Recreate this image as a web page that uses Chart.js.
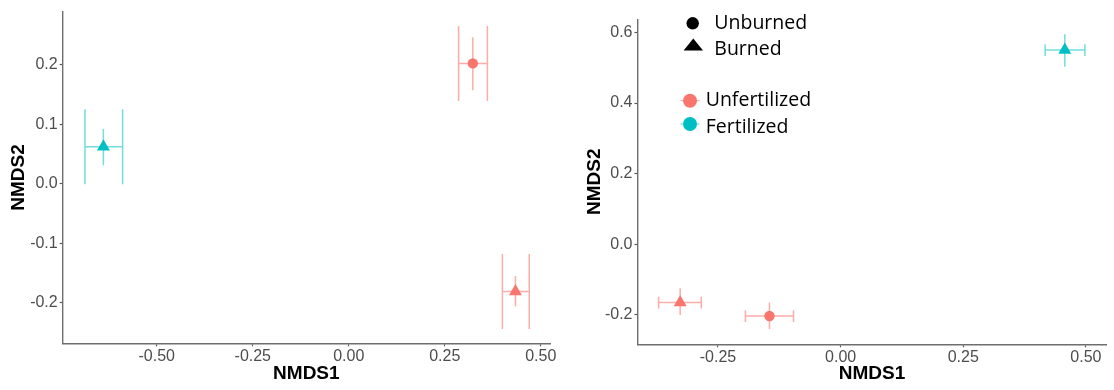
<!DOCTYPE html>
<html>
<head>
<meta charset="utf-8">
<script src="https://cdn.jsdelivr.net/npm/chart.js@4.4.1/dist/chart.umd.min.js"></script>
<style>
  html, body { margin: 0; padding: 0; background: #fff; }
  #wrap { position: relative; width: 1114px; height: 390px; }
  .panel { position: absolute; top: 0; height: 390px; }
  #leftPanel { left: 0; width: 560px; }
  #rightPanel { left: 560px; width: 554px; }
</style>
</head>
<body>
<div id="wrap">
  <div class="panel" id="leftPanel"><canvas id="leftChart" width="560" height="390"></canvas></div>
  <div class="panel" id="rightPanel"><canvas id="rightChart" width="554" height="390"></canvas></div>
</div>
<script>
// legend groups
const burnGroups = ['Unburned', 'Burned'];
const fertGroups = ['Unfertilized', 'Fertilized'];

// left panel
const leftFert  = ['Unfertilized', 'Unfertilized', 'Fertilized'];
const leftBurn  = ['Unburned', 'Burned', 'Burned'];
const leftX     = [0.323, 0.434, -0.639];
const leftY     = [0.202, -0.181, 0.062];
const leftXLo   = [0.286, 0.400, -0.687];
const leftXHi   = [0.361, 0.470, -0.589];
const leftYLo   = [0.157, -0.206, 0.031];
const leftYHi   = [0.246, -0.155, 0.092];
const leftXTicks = [-0.50, -0.25, 0.00, 0.25, 0.50];
const leftYTicks = [-0.2, -0.1, 0.0, 0.1, 0.2];

// right panel
const rightFert = ['Unfertilized', 'Unfertilized', 'Fertilized'];
const rightBurn = ['Unburned', 'Burned', 'Burned'];
const rightX    = [-0.145, -0.327, 0.457];
const rightY    = [-0.203, -0.165, 0.550];
const rightXLo  = [-0.194, -0.371, 0.417];
const rightXHi  = [-0.096, -0.284, 0.498];
const rightYLo  = [-0.240, -0.200, 0.503];
const rightYHi  = [-0.165, -0.124, 0.595];
const rightXTicks = [-0.25, 0.00, 0.25, 0.50];
const rightYTicks = [-0.2, 0.0, 0.2, 0.4, 0.6];

const pointCol = { Unfertilized: '#F8766D', Fertilized: '#00BFC4' };
const barCol   = { Unfertilized: 'rgba(248,118,109,0.6)', Fertilized: 'rgba(0,191,196,0.55)' };
const SANS = '"Liberation Sans", Arial, sans-serif';

const errorBars = {
  id: 'errorBars',
  beforeDatasetsDraw(chart, args, opts) {
    const { ctx, scales: { x, y } } = chart;
    ctx.save();
    ctx.lineWidth = 1.5;
    chart.data.datasets.forEach(ds => {
      ds.data.forEach((p, i) => {
        const px = x.getPixelForValue(p.x), py = y.getPixelForValue(p.y);
        const x0 = x.getPixelForValue(ds.xLo[i]), x1 = x.getPixelForValue(ds.xHi[i]);
        const y0 = y.getPixelForValue(ds.yLo[i]), y1 = y.getPixelForValue(ds.yHi[i]);
        const h = opts.capH / 2;
        ctx.strokeStyle = barCol[ds.fert[i]];
        ctx.beginPath();
        ctx.moveTo(x0, py); ctx.lineTo(x1, py);
        ctx.moveTo(x0, py - h); ctx.lineTo(x0, py + h);
        ctx.moveTo(x1, py - h); ctx.lineTo(x1, py + h);
        ctx.moveTo(px, y0); ctx.lineTo(px, y1);
        ctx.stroke();
      });
    });
    ctx.restore();
  }
};

const keyLegend = {
  id: 'keyLegend',
  afterDraw(chart, args, opts) {
    if (!opts.show) return;
    const ctx = chart.ctx;
    ctx.save();
    ctx.font = '19.5px "Open Sans", sans-serif';
    ctx.fillStyle = '#000';
    ctx.textBaseline = 'alphabetic';
    // shape keys
    ctx.beginPath(); ctx.arc(132.7, 23.3, 6.2, 0, Math.PI * 2); ctx.fill();
    ctx.beginPath(); ctx.moveTo(133.3, 38.5); ctx.lineTo(143, 50.5); ctx.lineTo(123.6, 50.5); ctx.closePath(); ctx.fill();
    ctx.fillText(burnGroups[0], 154.3, 28.5);
    ctx.fillText(burnGroups[1], 154.3, 55.2);
    // colour keys
    [[fertGroups[0], 100.7, 106.2], [fertGroups[1], 124, 132.8]].forEach(([g, cy, by]) => {
      ctx.strokeStyle = barCol[g]; ctx.lineWidth = 1.2;
      ctx.beginPath(); ctx.moveTo(120.5, cy); ctx.lineTo(139.5, cy); ctx.stroke();
      ctx.fillStyle = pointCol[g];
      ctx.beginPath(); ctx.arc(130, cy, 7, 0, Math.PI * 2); ctx.fill();
      ctx.fillStyle = '#000';
      ctx.fillText(g, 145.7, by);
    });
    ctx.restore();
  }
};

function axis(ticks, digits, min, max, title, size, titlePad, tickPad) {
  return {
    type: 'linear', min, max,
    afterBuildTicks: s => { s.ticks = ticks.map(v => ({ value: v })); },
    afterFit: s => { if (s.isHorizontal()) s.height = size; else s.width = size; },
    ticks: {
      color: '#4d4d4d', padding: tickPad, autoSkip: false, maxRotation: 0,
      font: { family: SANS, size: 16 },
      callback: v => v.toFixed(digits)
    },
    grid: { display: true, drawOnChartArea: false, drawTicks: true, tickLength: 3, tickWidth: 1.2, tickColor: '#555' },
    border: { display: true, color: '#6e6e6e', width: 1.4 },
    title: { display: true, text: title, color: '#000', padding: titlePad,
      font: { family: SANS, size: 19, weight: 'bold' } }
  };
}

function buildData(xs, ys, xLo, xHi, yLo, yHi, fert, burn) {
  return {
    datasets: [{
      data: xs.map((x, i) => ({ x, y: ys[i] })),
      xLo, xHi, yLo, yHi, fert,
      pointStyle: burn.map(b => b === 'Unburned' ? 'circle' : 'triangle'),
      pointRadius: burn.map(b => b === 'Unburned' ? 5.2 : 7.5),
      backgroundColor: fert.map(f => pointCol[f]),
      borderWidth: 0
    }]
  };
}

function renderChart(id, data, scales, padding, capH, legend) {
  return new Chart(document.getElementById(id), {
    type: 'scatter',
    data,
    plugins: [errorBars, keyLegend],
    options: {
      responsive: false, animation: false,
      layout: { padding },
      scales,
      plugins: {
        legend: { display: false }, tooltip: { enabled: false },
        errorBars: { capH }, keyLegend: { show: legend }
      }
    }
  });
}

renderChart('leftChart',
  buildData(leftX, leftY, leftXLo, leftXHi, leftYLo, leftYHi, leftFert, leftBurn),
  {
    x: axis(leftXTicks, 2, -0.745, 0.524, 'NMDS1', 46.7, { top: 0, bottom: 5 }, 1),
    y: axis(leftYTicks, 1, -0.268, 0.289, 'NMDS2', 62.7, { top: 7.6, bottom: 0 }, 2)
  },
  { left: 0, right: 10, top: 7, bottom: 0 }, 75, false);

renderChart('rightChart',
  buildData(rightX, rightY, rightXLo, rightXHi, rightYLo, rightYHi, rightFert, rightBurn),
  {
    x: axis(rightXTicks, 2, -0.414, 0.542, 'NMDS1', 45.7, { top: 0, bottom: 5 }, 1),
    y: axis(rightYTicks, 1, -0.283, 0.637, 'NMDS2', 77.5, { top: 23.6, bottom: 0 }, 2)
  },
  { left: 0, right: 2.3, top: 19.3, bottom: 0 }, 11.7, true);
</script>
</body>
</html>
